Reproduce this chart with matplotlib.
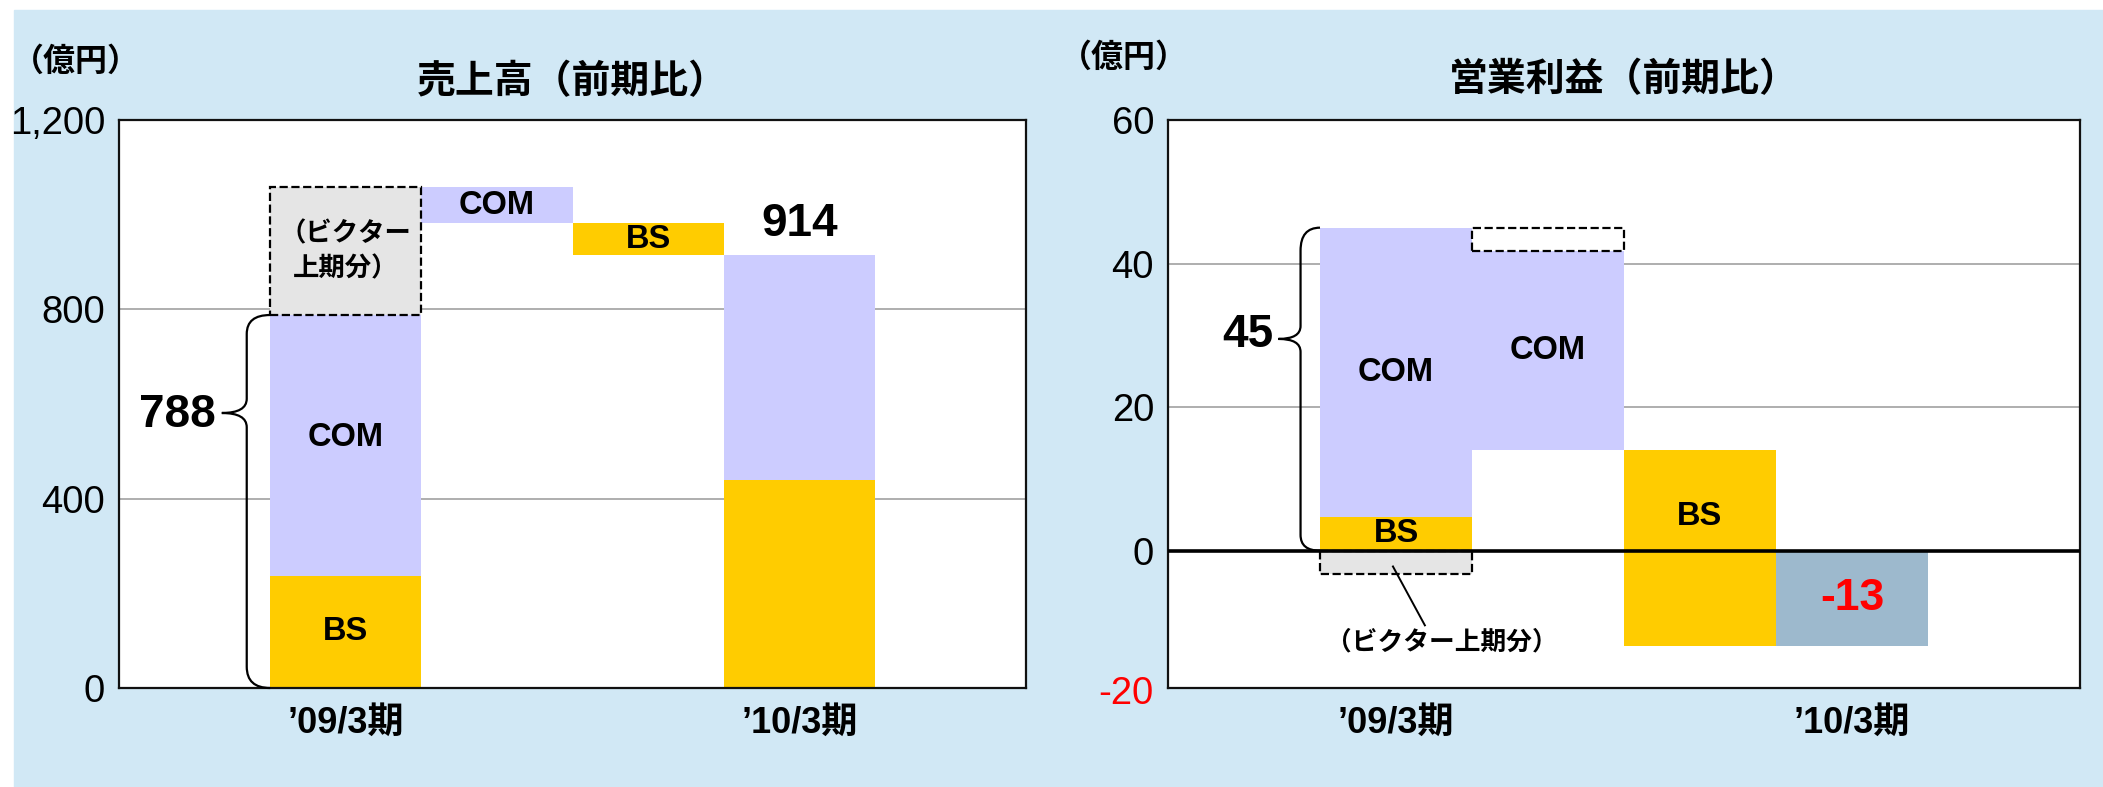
import matplotlib.pyplot as plt
from matplotlib.patches import Rectangle, PathPatch
from matplotlib.path import Path

plt.rcParams['font.family'] = ['Liberation Sans', 'Noto Sans CJK JP']

# ---- data ----
categories = ["’09/3期", "’10/3期"]

# 売上高 (億円)
sales_09 = [237, 551]        # BS, COM
sales_victor = 270           # ビクター上期分
sales_steps = [-76, -68]     # COM, BS
sales_10 = [440, 474]        # BS, COM

# 営業利益 (億円)
op_09 = [4.7, 40.3]          # BS, COM
op_victor = -3.2             # ビクター上期分
op_steps = [-27.8, -27.3]    # COM, BS
op_10 = -13.3

COM = "#CCCCFF"
BS = "#FFCC00"
GRAYBOX = "#E5E5E5"
FINAL = "#9DB9CD"
BG = "#D1E8F5"


def brace(ax, x_end, x_mid, x_tip, y0, y1, ytip, r0, r1, rt):
    verts = [(x_end, y1), (x_mid, y1), (x_mid, y1 - r1),
             (x_mid, ytip + rt),
             (x_mid, ytip), (x_tip, ytip),
             (x_mid, ytip), (x_mid, ytip - rt),
             (x_mid, y0 + r0),
             (x_mid, y0), (x_end, y0)]
    codes = [Path.MOVETO, Path.CURVE3, Path.CURVE3,
             Path.LINETO,
             Path.CURVE3, Path.CURVE3,
             Path.CURVE3, Path.CURVE3,
             Path.LINETO,
             Path.CURVE3, Path.CURVE3]
    ax.add_patch(PathPatch(Path(verts, codes), fill=False, lw=1.6,
                           edgecolor="black", zorder=5, clip_on=False))


def style_axes(ax):
    ax.set_xlim(-1.5, 4.5)
    ax.set_xticks([0, 3])
    ax.set_xticklabels(categories, fontsize=26, fontweight="bold")
    ax.tick_params(axis="x", length=0, pad=13)
    ax.tick_params(axis="y", length=0, pad=10, labelsize=27.5)
    ax.set_axisbelow(True)
    ax.yaxis.grid(True, color="#A8A8A8", lw=1.3)
    for s in ax.spines.values():
        s.set_linewidth(1.6)
        s.set_color("#111111")


fig = plt.figure(figsize=(21.03, 7.87), dpi=100, facecolor="white")
fig.patches.append(Rectangle((14 / 2103, 0), 1, 1 - 10 / 787,
                             transform=fig.transFigure, color=BG, zorder=-10))

# ---------------- 売上高 ----------------
ax1 = fig.add_axes([119 / 2103, 1 - 688 / 787, 907 / 2103, 568 / 787])
ax1.set_facecolor("white")
style_axes(ax1)
ax1.set_ylim(0, 1200)
ax1.set_yticks([0, 400, 800, 1200])
ax1.set_yticklabels(["0", "400", "800", "1,200"])

total_09 = sum(sales_09)
ax1.bar(0, sales_09[0], width=1, color=BS)
ax1.bar(0, sales_09[1], bottom=sales_09[0], width=1, color=COM)
ax1.bar(0, sales_victor, bottom=total_09, width=1, facecolor=GRAYBOX,
        edgecolor="black", linestyle="--", lw=1.6, zorder=3)
level = total_09 + sales_victor
ax1.bar(1, sales_steps[0], bottom=level, width=1, color=COM)
level += sales_steps[0]
ax1.bar(2, sales_steps[1], bottom=level, width=1, color=BS)
level += sales_steps[1]
ax1.bar(3, sales_10[0], width=1, color=BS)
ax1.bar(3, sales_10[1], bottom=sales_10[0], width=1, color=COM)

lbl = dict(fontsize=23.5, fontweight="bold", ha="center", va="center", zorder=6)
ax1.text(0, sales_09[0] / 2, "BS", **lbl)
ax1.text(0, sales_09[0] + sales_09[1] * 0.53, "COM", **lbl)
ax1.text(1, total_09 + sales_victor + sales_steps[0] / 2, "COM", **lbl)
ax1.text(2, total_09 + sales_victor + sales_steps[0] + sales_steps[1] / 2, "BS", **lbl)
ax1.text(0, total_09 + sales_victor / 2, "（ビクター\n上期分）", fontsize=19,
         fontweight="bold", ha="center", va="center", linespacing=1.45, zorder=6)
ax1.text(3, level + 20, f"{level}", fontsize=33, fontweight="bold",
         ha="center", va="bottom")
brace(ax1, -0.5, -0.655, -0.82, 0, total_09, 581, 45, 40, 30)
ax1.text(-0.86, 577, f"{total_09}", fontsize=33, fontweight="bold",
         ha="right", va="center")

ax1.text(0.5, 1 + 38 / 568, "売上高（前期比）", transform=ax1.transAxes,
         fontsize=28, fontweight="bold", ha="center", va="center")
fig.text(12 / 2103, 1 - 62 / 787, "（億円）", fontsize=23, fontweight="bold",
         ha="left", va="center")

# ---------------- 営業利益 ----------------
ax2 = fig.add_axes([1168 / 2103, 1 - 688 / 787, 912 / 2103, 568 / 787])
ax2.set_facecolor("white")
style_axes(ax2)
ax2.set_ylim(-19.13, 60)
ax2.set_yticks([0, 20, 40, 60])
ax2.text(-15 / 912, -20, "-20", transform=ax2.get_yaxis_transform(),
         fontsize=27.5, color="red", ha="right", va="center")

op_total = sum(op_09)
ax2.bar(0, op_09[0], width=1, color=BS)
ax2.bar(0, op_09[1], bottom=op_09[0], width=1, color=COM)
ax2.bar(0, op_victor, width=1, facecolor=GRAYBOX, edgecolor="black",
        linestyle="--", lw=1.6, zorder=3)
lvl = op_total + op_victor
ax2.bar(1, -op_victor, bottom=lvl, width=1, facecolor="white",
        edgecolor="black", linestyle="--", lw=1.6, zorder=3)
ax2.bar(1, op_steps[0], bottom=lvl, width=1, color=COM)
lvl += op_steps[0]
ax2.bar(2, op_steps[1], bottom=lvl, width=1, color=BS)
ax2.bar(3, op_10, width=1, color=FINAL)
ax2.axhline(0, color="black", lw=2.6, zorder=4)

ax2.text(0, op_09[0] / 2, "BS", **lbl)
ax2.text(0, op_09[0] + op_09[1] / 2, "COM", **lbl)
ax2.text(1, op_total + op_victor + op_steps[0] / 2, "COM", **lbl)
ax2.text(2, 4.7, "BS", **lbl)  # label sits in the positive part of the bar
ax2.text(3, op_10 / 2, f"{op_10:.0f}", fontsize=32, fontweight="bold",
         color="red", ha="center", va="center", zorder=6)
brace(ax2, -0.5, -0.628, -0.773, 0, op_total, 29.5, 2.2, 3.2, 1.8)
ax2.text(-0.81, 30, f"{op_total:.0f}", fontsize=33, fontweight="bold",
         ha="right", va="center")
ax2.plot([-0.02, 0.19], [-2.2, -10.4], color="black", lw=1.4, zorder=5)
ax2.text(0.3, -12.8, "（ビクター上期分）", fontsize=18.5, fontweight="bold",
         ha="center", va="center")

ax2.text(0.5, 1 + 40 / 568, "営業利益（前期比）", transform=ax2.transAxes,
         fontsize=28, fontweight="bold", ha="center", va="center")
fig.text(1060 / 2103, 1 - 58 / 787, "（億円）", fontsize=23, fontweight="bold",
         ha="left", va="center")

fig.savefig("out.png", dpi=100, facecolor="white")
